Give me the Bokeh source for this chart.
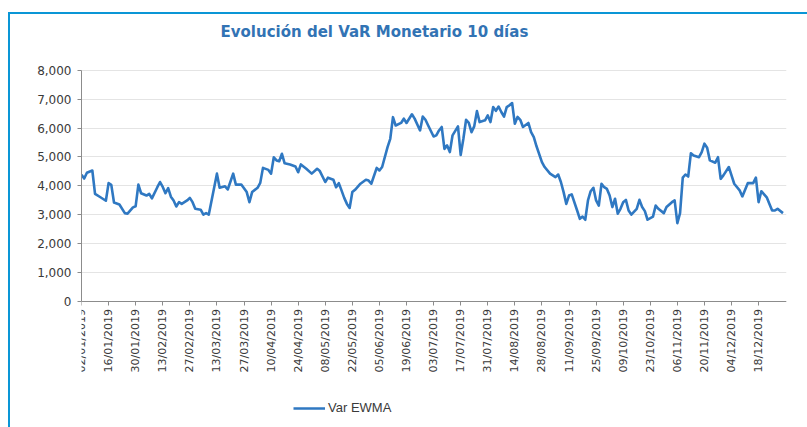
import numpy as np
from bokeh.plotting import figure
from bokeh.models import Range1d, FixedTicker, Legend, LegendItem, NumeralTickFormatter, Label
from bokeh.embed import file_html
from bokeh.resources import INLINE

title_text = "Evolución del VaR Monetario 10 días"
series_name = "Var EWMA"

dates = [
    "2019-01-02", "2019-01-03", "2019-01-04", "2019-01-08", "2019-01-09", "2019-01-11", "2019-01-15",
    "2019-01-16", "2019-01-17", "2019-01-18", "2019-01-22", "2019-01-24", "2019-01-25", "2019-01-29",
    "2019-01-30", "2019-01-31", "2019-02-01", "2019-02-05", "2019-02-06", "2019-02-07", "2019-02-11",
    "2019-02-12", "2019-02-13", "2019-02-14", "2019-02-15", "2019-02-18", "2019-02-19", "2019-02-20",
    "2019-02-21", "2019-02-22", "2019-02-26", "2019-02-27", "2019-02-28", "2019-03-01", "2019-03-05",
    "2019-03-06", "2019-03-07", "2019-03-08", "2019-03-13", "2019-03-14", "2019-03-18", "2019-03-19",
    "2019-03-21", "2019-03-22", "2019-03-26", "2019-03-28", "2019-03-29", "2019-04-01", "2019-04-03",
    "2019-04-04", "2019-04-05", "2019-04-09", "2019-04-10", "2019-04-11", "2019-04-12", "2019-04-15",
    "2019-04-16", "2019-04-17", "2019-04-19", "2019-04-23", "2019-04-24", "2019-04-25", "2019-04-29",
    "2019-05-01", "2019-05-03", "2019-05-06", "2019-05-08", "2019-05-09", "2019-05-13", "2019-05-14",
    "2019-05-15", "2019-05-16", "2019-05-17", "2019-05-20", "2019-05-21", "2019-05-22", "2019-05-23",
    "2019-05-27", "2019-05-29", "2019-05-30", "2019-05-31", "2019-06-04", "2019-06-05", "2019-06-06",
    "2019-06-10", "2019-06-11", "2019-06-12", "2019-06-13", "2019-06-17", "2019-06-18", "2019-06-19",
    "2019-06-21", "2019-06-24", "2019-06-26", "2019-06-27", "2019-06-28", "2019-07-01", "2019-07-03",
    "2019-07-04", "2019-07-05", "2019-07-08", "2019-07-09", "2019-07-10", "2019-07-11", "2019-07-12",
    "2019-07-16", "2019-07-17", "2019-07-18", "2019-07-19", "2019-07-22", "2019-07-23", "2019-07-24",
    "2019-07-25", "2019-07-26", "2019-07-30", "2019-07-31", "2019-08-01", "2019-08-02", "2019-08-05",
    "2019-08-06", "2019-08-07", "2019-08-08", "2019-08-09", "2019-08-12", "2019-08-13", "2019-08-14",
    "2019-08-15", "2019-08-16", "2019-08-19", "2019-08-21", "2019-08-22", "2019-08-23", "2019-08-26",
    "2019-08-28", "2019-08-29", "2019-09-02", "2019-09-04", "2019-09-05", "2019-09-06", "2019-09-09",
    "2019-09-10", "2019-09-11", "2019-09-12", "2019-09-16", "2019-09-17", "2019-09-18", "2019-09-19",
    "2019-09-20", "2019-09-23", "2019-09-24", "2019-09-25", "2019-09-26", "2019-09-27", "2019-09-30",
    "2019-10-01", "2019-10-02", "2019-10-03", "2019-10-04", "2019-10-07", "2019-10-08", "2019-10-09",
    "2019-10-10", "2019-10-11", "2019-10-14", "2019-10-16", "2019-10-17", "2019-10-18", "2019-10-21",
    "2019-10-22", "2019-10-24", "2019-10-25", "2019-10-28", "2019-10-30", "2019-10-31", "2019-11-04",
    "2019-11-05", "2019-11-06", "2019-11-07", "2019-11-08", "2019-11-11", "2019-11-12", "2019-11-13",
    "2019-11-14", "2019-11-18", "2019-11-19", "2019-11-20", "2019-11-21", "2019-11-22", "2019-11-26",
    "2019-11-27", "2019-11-28", "2019-11-29", "2019-12-03", "2019-12-04", "2019-12-05", "2019-12-09",
    "2019-12-10", "2019-12-12", "2019-12-16", "2019-12-17", "2019-12-18", "2019-12-19", "2019-12-23",
    "2019-12-24", "2019-12-25", "2019-12-26", "2019-12-27", "2019-12-31",
]

var_ewma = [
    4380, 4250, 4450, 4530, 3720, 3600, 3480,
    4090, 4030, 3420, 3350, 3050, 3030, 3250,
    3290, 4040, 3740, 3660, 3720, 3560, 3950,
    4130, 3960, 3740, 3920, 3620, 3490, 3280,
    3430, 3370, 3490, 3580, 3430, 3200, 3170,
    3000, 3050, 3000, 4420, 3930, 3980, 3870,
    4420, 4040, 4040, 3780, 3430, 3780, 3930,
    4100, 4620, 4550, 4420, 4990, 4880, 4850,
    5110, 4780, 4740, 4670, 4470, 4740, 4590,
    4420, 4590, 4510, 4130, 4280, 4210, 3950,
    4090, 3840, 3580, 3370, 3230, 3780, 3860,
    4070, 4210, 4180, 4070, 4620, 4530, 4650,
    5340, 5630, 6380, 6090, 6180, 6330, 6180,
    6480, 6330, 5920, 6400, 6290, 6090, 5710,
    5750, 5920, 6040, 5280, 5400, 5170, 5750,
    6060, 5070, 5630, 6290, 6180, 5860, 6060,
    6590, 6210, 6270, 6440, 6210, 6730, 6600,
    6750, 6560, 6400, 6730, 6790, 6870, 6150,
    6390, 6290, 6040, 6180, 5860, 5690, 5370,
    4820, 4650, 4420, 4300, 4390, 4130, 3780,
    3370, 3660, 3700, 3140, 2850, 2930, 2820,
    3490, 3810, 3930, 3490, 3310, 4070, 3950,
    3890, 3660, 3260, 3550, 3030, 3200, 3430,
    3510, 3140, 3000, 3200, 3510, 3260, 3120,
    2820, 2930, 3310, 3200, 3050, 3260, 3430,
    3490, 2700, 3050, 4280, 4390, 4320, 5130,
    5050, 4990, 5170, 5460, 5320, 4880, 4800,
    4990, 4240, 4360, 4650, 4360, 4070, 3840,
    3630, 4090, 4090, 4280, 3430, 3810, 3600,
    3370, 3140, 3140, 3200, 3050,
]

tick_labels = [
    "02/01/2019", "16/01/2019", "30/01/2019", "13/02/2019", "27/02/2019", "13/03/2019",
    "27/03/2019", "10/04/2019", "24/04/2019", "08/05/2019", "22/05/2019", "05/06/2019",
    "19/06/2019", "03/07/2019", "17/07/2019", "31/07/2019", "14/08/2019", "28/08/2019",
    "11/09/2019", "25/09/2019", "09/10/2019", "23/10/2019", "06/11/2019", "20/11/2019",
    "04/12/2019", "18/12/2019",
]
y_ticks = [0, 1000, 2000, 3000, 4000, 5000, 6000, 7000, 8000]

start = np.datetime64("2019-01-02")
x = np.busday_count(start, np.array(dates, dtype="datetime64[D]"))
tick_dates = np.array([f"{s[6:10]}-{s[3:5]}-{s[0:2]}" for s in tick_labels], dtype="datetime64[D]")
tick_pos = [int(v) for v in np.busday_count(start, tick_dates)]

LINE = "#2f78c2"
AXIS = "#8c8c8c"
TXT = "#3a3a3a"

# layout in page pixels: canvas top at 14, value 0 at 300.5, value 8000 at 70, window bottom 427
FRAME_H = 413
px_per_unit = (300.5 - 70) / 8000
y_top = (300.5 - 14) / px_per_unit
y_bot = -(14 + FRAME_H - 300.5) / px_per_unit

p = figure(frame_width=705, frame_height=FRAME_H, output_backend="svg", toolbar_location=None,
           x_range=Range1d(0, 260.3), y_range=Range1d(y_bot, y_top),
           min_border_left=71, min_border_right=21, min_border_top=0, min_border_bottom=0)
p.margin = (12, 0, 0, 8)
p.styles = {"border-left": "2px solid #0a96d6", "border-top": "2px solid #0a96d6"}
p.outline_line_color = None
p.background_fill_color = "white"
p.border_fill_color = "white"

r = p.line(x, var_ewma, line_color=LINE, line_width=2.6, line_join="round")

p.xgrid.grid_line_color = None
p.ygrid.grid_line_color = "#e4e4e4"
p.ygrid.grid_line_width = 1

p.xaxis.fixed_location = 0
p.xaxis.ticker = FixedTicker(ticks=tick_pos)
p.xaxis.major_label_overrides = {t: s for t, s in zip(tick_pos, tick_labels)}
p.xaxis.major_label_orientation = np.pi / 2
p.xaxis.major_label_text_font = "DejaVu Sans"
p.xaxis.major_label_text_font_size = "11px"
p.xaxis.major_label_text_color = TXT
p.xaxis.major_label_standoff = 4
p.xaxis.minor_tick_line_color = None

p.yaxis.bounds = (0, 8000)
p.yaxis.ticker = FixedTicker(ticks=y_ticks)
p.yaxis.formatter = NumeralTickFormatter(format="0,0")
p.yaxis.major_label_text_font = "DejaVu Sans"
p.yaxis.major_label_text_font_size = "12px"
p.yaxis.major_label_text_color = TXT
p.yaxis.major_label_standoff = 6
p.yaxis.minor_tick_line_color = None

for ax in (p.xaxis, p.yaxis):
    ax.axis_line_color = AXIS
    ax.major_tick_line_color = AXIS
    ax.major_tick_out = 4
    ax.major_tick_in = 0

title = Label(x=139, y=FRAME_H - (31 - 14), x_units="screen", y_units="screen", text=title_text,
              text_font="DejaVu Sans", text_font_style="bold", text_font_size="15px",
              text_color="#3273b4", text_align="left", text_baseline="middle")
p.add_layout(title)

legend = Legend(items=[LegendItem(label=series_name, renderers=[r])],
                location=(212, 12), padding=0, margin=0, spacing=0,
                glyph_width=32, glyph_height=12, label_standoff=3,
                label_text_font="Liberation Sans", label_text_font_size="13px",
                label_text_color=TXT, border_line_alpha=0, background_fill_alpha=0)
p.add_layout(legend, "center")

open("out.html", "w").write(file_html(p, INLINE))
